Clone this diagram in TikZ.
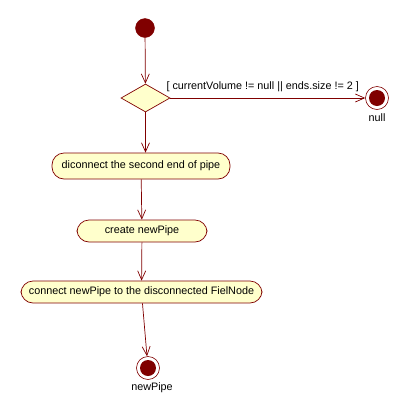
\documentclass[tikz,border=0pt]{standalone}
\usepackage{fontspec}
\setmainfont{Liberation Sans}
\usetikzlibrary{shapes.geometric,arrows.meta}
\definecolor{umlline}{RGB}{128,0,0}
\definecolor{umlfill}{RGB}{255,255,204}
\begin{document}
\begin{tikzpicture}[x=1pt,y=-1pt,
  every node/.style={font=\fontsize{10.8}{12}\selectfont, text=black},
  actbox/.style={draw=umlline, fill=umlfill, rounded corners=12pt, inner sep=0pt, line width=0.7pt},
  startdot/.style={circle, fill=umlline, draw=umlline, minimum size=19pt, inner sep=0pt},
  enddot/.style={circle, draw=umlline, fill=white, minimum size=23pt, inner sep=0pt, line width=0.6pt,
    path picture={\fill[umlline] (path picture bounding box.center) circle (8pt);}},
  decision/.style={diamond, draw=umlline, fill=umlfill, minimum width=49pt, minimum height=28pt, inner sep=0pt, aspect=1.75, line width=0.7pt},
  flow/.style={draw=umlline, line width=0.7pt, -{Straight Barb[length=9pt,width=8pt]}}
]
\useasboundingbox (0,0) rectangle (409,413);
\node[startdot] (start) at (145,28) {};
\node[decision] (dec) at (145.5,98) {};
\node[enddot] (endnull) at (377,98) {};
\node (lnull) at (377,118) {null};
\node[actbox, minimum width=178pt, minimum height=26pt] (a1) at (141,166) {diconnect the second end of pipe};
\node[actbox, minimum width=130pt, minimum height=22pt] (a2) at (142,231) {create newPipe};
\node[actbox, minimum width=241pt, minimum height=22pt] (a3) at (141.5,292) {connect newPipe to the disconnected FielNode};
\node[enddot] (endpipe) at (148,368) {};
\node (lpipe) at (152,388) {newPipe};
\draw[flow] (start) -- (dec);
\draw[flow] (dec) -- (endnull);
\node[anchor=base west] (guard) at (163,89) {[ currentVolume != null || ends.size != 2 ]};
\draw[flow] (dec.south) -- (a1.north -| dec.south);
\draw[flow] (a1) -- (a2);
\draw[flow] (a2) -- (a3);
\draw[flow] (a3) -- (endpipe);
\end{tikzpicture}
\end{document}
